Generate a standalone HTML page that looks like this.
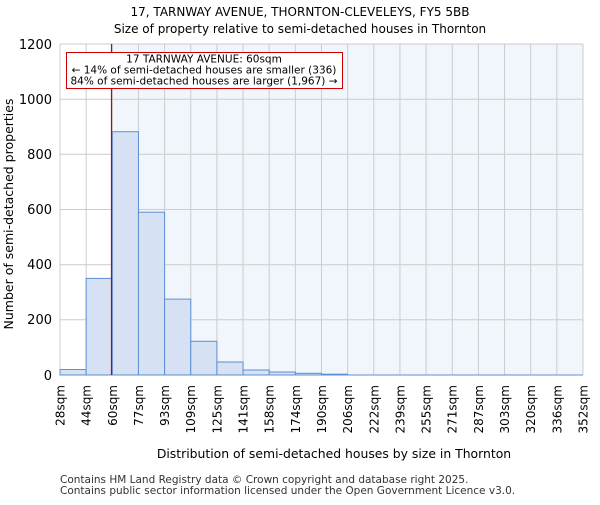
<!DOCTYPE html>
<html><head><meta charset="utf-8"><style>body{margin:0;background:#fff}</style></head><body>
<svg width="600" height="500" xmlns="http://www.w3.org/2000/svg" font-family="DejaVu Sans, Liberation Sans, sans-serif">
<text x="300" y="16" text-anchor="middle" font-size="12">17, TARNWAY AVENUE, THORNTON-CLEVELEYS, FY5 5BB</text>
<text x="300" y="33" text-anchor="middle" font-size="12">Size of property relative to semi-detached houses in Thornton</text>
<rect x="112.3" y="44" width="470.7" height="331" fill="#f1f5fc"/>
<g stroke="#cccccc" stroke-width="1">
<line x1="60" y1="44" x2="583" y2="44"/><line x1="60" y1="99.2" x2="583" y2="99.2"/><line x1="60" y1="154.3" x2="583" y2="154.3"/><line x1="60" y1="209.5" x2="583" y2="209.5"/><line x1="60" y1="264.7" x2="583" y2="264.7"/><line x1="60" y1="319.8" x2="583" y2="319.8"/>
<line x1="60" y1="44" x2="60" y2="375"/><line x1="86.15" y1="44" x2="86.15" y2="375"/><line x1="112.3" y1="44" x2="112.3" y2="375"/><line x1="138.45" y1="44" x2="138.45" y2="375"/><line x1="164.6" y1="44" x2="164.6" y2="375"/><line x1="190.75" y1="44" x2="190.75" y2="375"/><line x1="216.9" y1="44" x2="216.9" y2="375"/><line x1="243.05" y1="44" x2="243.05" y2="375"/><line x1="269.2" y1="44" x2="269.2" y2="375"/><line x1="295.35" y1="44" x2="295.35" y2="375"/><line x1="321.5" y1="44" x2="321.5" y2="375"/><line x1="347.65" y1="44" x2="347.65" y2="375"/><line x1="373.8" y1="44" x2="373.8" y2="375"/><line x1="399.95" y1="44" x2="399.95" y2="375"/><line x1="426.1" y1="44" x2="426.1" y2="375"/><line x1="452.25" y1="44" x2="452.25" y2="375"/><line x1="478.4" y1="44" x2="478.4" y2="375"/><line x1="504.55" y1="44" x2="504.55" y2="375"/><line x1="530.7" y1="44" x2="530.7" y2="375"/><line x1="556.85" y1="44" x2="556.85" y2="375"/><line x1="583" y1="44" x2="583" y2="375"/>
</g>
<g fill="#d6e1f3" stroke="#5b8fd6" stroke-width="1">
<rect x="60" y="369.5" width="26.15" height="5.5"/>
<rect x="86.15" y="278.4" width="26.15" height="96.6"/>
<rect x="112.3" y="131.7" width="26.15" height="243.3"/>
<rect x="138.45" y="212.2" width="26.15" height="162.8"/>
<rect x="164.6" y="299.1" width="26.15" height="75.9"/>
<rect x="190.75" y="341.3" width="26.15" height="33.7"/>
<rect x="216.9" y="362" width="26.15" height="13"/>
<rect x="243.05" y="370" width="26.15" height="5"/>
<rect x="269.2" y="372" width="26.15" height="3"/>
<rect x="295.35" y="373.3" width="26.15" height="1.7"/>
<rect x="321.5" y="374.2" width="26.15" height="0.8"/>
</g>
<line x1="60" y1="375" x2="583" y2="375" stroke="#5b8fd6" stroke-width="1"/>
<line x1="111.5" y1="44" x2="111.5" y2="375" stroke="#cc0000" stroke-width="1.2"/>
<rect x="66.5" y="52.5" width="276" height="36" fill="#fff" stroke="#cc0000" stroke-width="1"/>
<g font-size="10.5" text-anchor="middle">
<text x="204" y="62.5">17 TARNWAY AVENUE: 60sqm</text>
<text x="204" y="73.5">← 14% of semi-detached houses are smaller (336)</text>
<text x="204" y="84.5">84% of semi-detached houses are larger (1,967) →</text>
</g>
<g font-size="13" text-anchor="end">
<text x="52" y="49">1200</text><text x="52" y="104">1000</text><text x="52" y="159">800</text><text x="52" y="214">600</text><text x="52" y="269">400</text><text x="52" y="324">200</text><text x="52" y="380">0</text>
</g>
<text transform="translate(13,214) rotate(-90)" text-anchor="middle" font-size="12.5">Number of semi-detached properties</text>
<g font-size="12" text-anchor="end">
<text transform="translate(64.5,385) rotate(-90)">28sqm</text>
<text transform="translate(90.6,385) rotate(-90)">44sqm</text>
<text transform="translate(116.8,385) rotate(-90)">60sqm</text>
<text transform="translate(142.9,385) rotate(-90)">77sqm</text>
<text transform="translate(169.1,385) rotate(-90)">93sqm</text>
<text transform="translate(195.2,385) rotate(-90)">109sqm</text>
<text transform="translate(221.4,385) rotate(-90)">125sqm</text>
<text transform="translate(247.5,385) rotate(-90)">141sqm</text>
<text transform="translate(273.7,385) rotate(-90)">158sqm</text>
<text transform="translate(299.8,385) rotate(-90)">174sqm</text>
<text transform="translate(326,385) rotate(-90)">190sqm</text>
<text transform="translate(352.1,385) rotate(-90)">206sqm</text>
<text transform="translate(378.3,385) rotate(-90)">222sqm</text>
<text transform="translate(404.4,385) rotate(-90)">239sqm</text>
<text transform="translate(430.6,385) rotate(-90)">255sqm</text>
<text transform="translate(456.7,385) rotate(-90)">271sqm</text>
<text transform="translate(482.9,385) rotate(-90)">287sqm</text>
<text transform="translate(509,385) rotate(-90)">303sqm</text>
<text transform="translate(535.2,385) rotate(-90)">320sqm</text>
<text transform="translate(561.3,385) rotate(-90)">336sqm</text>
<text transform="translate(587.5,385) rotate(-90)">352sqm</text>
</g>
<text x="334" y="458" text-anchor="middle" font-size="12.4">Distribution of semi-detached houses by size in Thornton</text>
<text x="60" y="483" font-size="10.5" fill="#333">Contains HM Land Registry data © Crown copyright and database right 2025.</text>
<text x="60" y="494" font-size="10.5" fill="#333">Contains public sector information licensed under the Open Government Licence v3.0.</text>
</svg>
</body></html>
